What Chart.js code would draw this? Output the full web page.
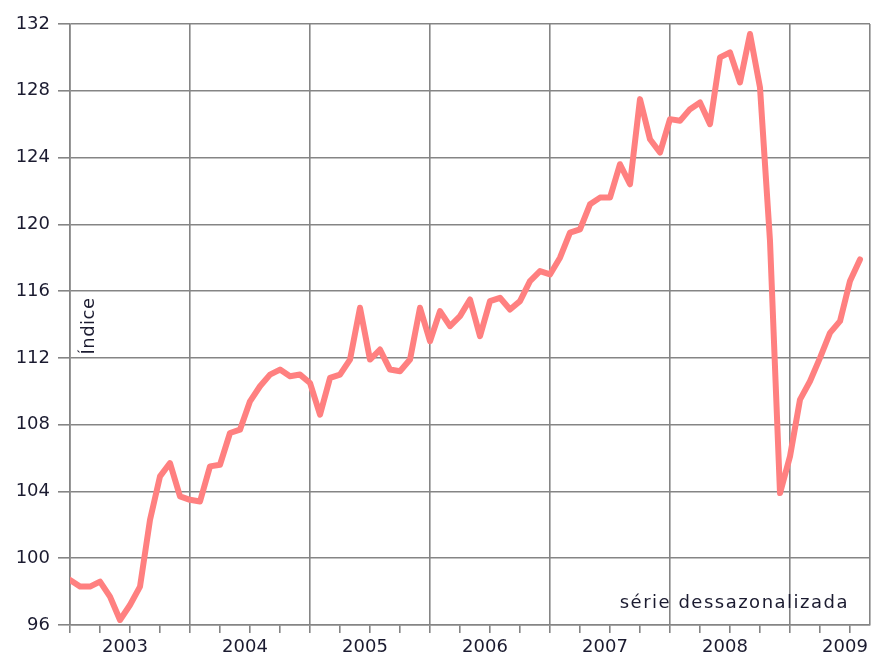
<!DOCTYPE html>
<html>
<head>
<meta charset="utf-8">
<script src="https://cdn.jsdelivr.net/npm/chart.js@4/dist/chart.umd.min.js"></script>
<style>
  html, body { margin: 0; padding: 0; background: #fff; }
  #wrap { width: 877px; height: 668px; }
</style>
</head>
<body>
<div id="wrap"><canvas id="prodChart"></canvas></div>
<script>
// monthly index, Jan 2003 .. Aug 2009
const startYear = 2003;
const years = ['2003', '2004', '2005', '2006', '2007', '2008', '2009'];
const values = [
  98.7, 98.3, 98.3, 98.6, 97.7, 96.3, 97.2, 98.3, 102.3, 104.9, 105.7, 103.7,
  103.5, 103.4, 105.5, 105.6, 107.5, 107.7, 109.4, 110.3, 111.0, 111.3, 110.9, 111.0,
  110.5, 108.6, 110.8, 111.0, 111.9, 115.0, 111.9, 112.5, 111.3, 111.2, 111.9, 115.0,
  113.0, 114.8, 113.9, 114.5, 115.5, 113.3, 115.4, 115.6, 114.9, 115.4, 116.6, 117.2,
  117.0, 118.0, 119.5, 119.7, 121.2, 121.6, 121.6, 123.6, 122.4, 127.5, 125.1, 124.3,
  126.3, 126.2, 126.9, 127.3, 126.0, 130.0, 130.3, 128.5, 131.4, 128.2, 119.0, 103.9,
  106.1, 109.5, 110.6, 112.0, 113.5, 114.2, 116.6, 117.9
];
const yTicks = [96, 100, 104, 108, 112, 116, 120, 124, 128, 132];
const axisTitle = 'Índice';
const noteText = 'série dessazonalizada';

const gridGray = '#858585';
const textColor = '#1b1b30';
const font = '"DejaVu Sans"';

const points = values.map((v, i) => ({ x: i, y: v }));

// texts drawn inside the plot area
const notesPlugin = {
  id: 'notes',
  afterDatasetsDraw(chart) {
    const { ctx, chartArea } = chart;
    ctx.save();
    ctx.fillStyle = textColor;
    ctx.font = '18px ' + font;
    ctx.textBaseline = 'middle';
    ctx.textAlign = 'right';
    ctx.letterSpacing = '1.5px';
    ctx.fillText(noteText, chartArea.right - 21, chartArea.bottom - 22);
    ctx.letterSpacing = '0.5px';
    ctx.translate(chartArea.left + 19, chartArea.top + 302);
    ctx.rotate(-Math.PI / 2);
    ctx.textAlign = 'center';
    ctx.fillText(axisTitle, 0, 0);
    ctx.restore();
  }
};

const ctx = document.getElementById('prodChart').getContext('2d');
const prodChart = new Chart(ctx, {
  type: 'line',
  data: {
    datasets: [{
      label: axisTitle,
      data: points,
      borderColor: '#ff8080',
      borderWidth: 6,
      pointRadius: 0,
      tension: 0,
      borderJoinStyle: 'round',
      borderCapStyle: 'round'
    }]
  },
  options: {
    responsive: true,
    maintainAspectRatio: false,
    animation: false,
    layout: { padding: { top: 24, right: 7, left: 0, bottom: 0 } },
    plugins: {
      legend: { display: false },
      tooltip: { enabled: false }
    },
    scales: {
      x: {
        type: 'linear',
        min: 0,
        max: years.length * 12 - 4,
        afterBuildTicks: function(scale) {
          const t = [];
          for (let v = 0; v < scale.max; v += 3) t.push({ value: v });
          t.push({ value: scale.max });
          scale.ticks = t;
        },
        afterFit: function(scale) { scale.height = 43; },
        grid: {
          color: function(c) {
            const v = c.tick ? c.tick.value : 0;
            return (v % 12 === 0 || v === years.length * 12 - 4) ? gridGray : 'rgba(0,0,0,0)';
          },
          tickColor: function(c) {
            const v = c.tick ? c.tick.value : 0;
            return v === years.length * 12 - 4 ? 'rgba(0,0,0,0)' : gridGray;
          },
          lineWidth: 1.6,
          tickLength: 8,
          drawOnChartArea: true
        },
        border: { color: gridGray, width: 1.6 },
        ticks: {
          autoSkip: false,
          maxRotation: 0,
          padding: 4,
          labelOffset: -5,
          color: textColor,
          font: { family: 'DejaVu Sans', size: 18 },
          callback: function(value) {
            if (value % 12 === 6) return years[Math.floor(value / 12)];
            return '';
          }
        }
      },
      y: {
        min: yTicks[0],
        max: yTicks[yTicks.length - 1],
        afterBuildTicks: function(scale) {
          scale.ticks = yTicks.map(v => ({ value: v }));
        },
        afterFit: function(scale) { scale.width = 70; },
        grid: {
          color: gridGray,
          lineWidth: 1.6,
          tickLength: 12
        },
        border: { color: gridGray, width: 1.6 },
        ticks: {
          padding: 8,
          color: textColor,
          font: { family: 'DejaVu Sans', size: 18 }
        }
      }
    }
  },
  plugins: [notesPlugin]
});
</script>
</body>
</html>
